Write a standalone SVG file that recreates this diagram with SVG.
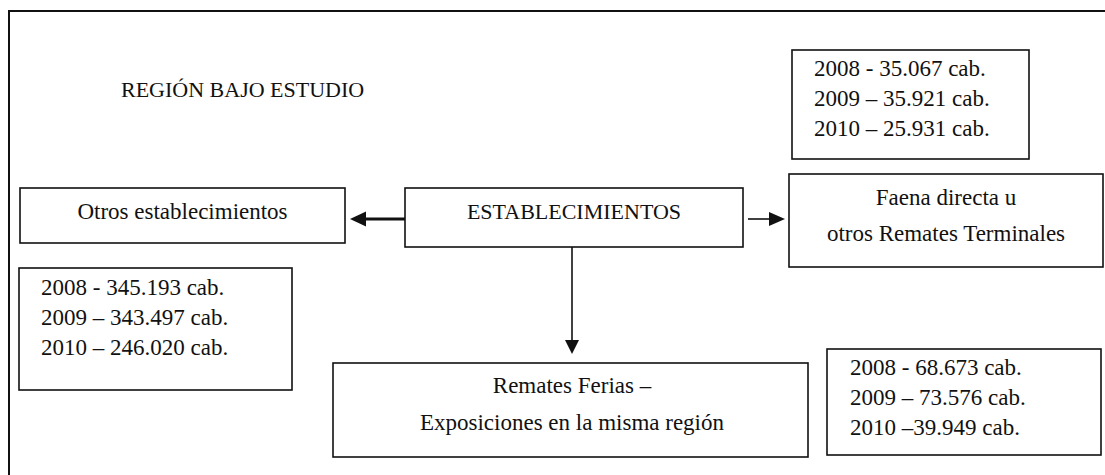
<svg xmlns="http://www.w3.org/2000/svg" width="1105" height="475" viewBox="0 0 1105 475">
<style>
.box{fill:#fff;stroke:#111;stroke-width:1.6}
.frame{fill:none;stroke:#111;stroke-width:2}
text{font-family:"Liberation Serif","Times New Roman",serif;font-size:23px;fill:#111}
.caps{font-size:22px}
.c{text-anchor:middle}
.thin{stroke:#111;stroke-width:1.6;fill:none}
.thick{stroke:#111;stroke-width:3.2;fill:none}
.head{fill:#111;stroke:none}
</style>
<rect class="frame" x="9" y="11" width="1100" height="470"/>
<g id="title">
<text class="caps" x="121" y="97">REGIÓN BAJO ESTUDIO</text>
</g>
<g id="data-faena">
<rect class="box" x="792" y="50" width="237" height="109"/>
<text x="814" y="76">2008 - 35.067 cab.</text>
<text x="814" y="106">2009 – 35.921 cab.</text>
<text x="814" y="136">2010 – 25.931 cab.</text>
</g>
<g id="faena">
<rect class="box" x="789" y="174" width="314" height="93"/>
<text class="c" x="946" y="205">Faena directa u</text>
<text class="c" x="946" y="241">otros Remates Terminales</text>
</g>
<g id="otros">
<rect class="box" x="20" y="188" width="325" height="55"/>
<text class="c" x="182.5" y="219">Otros establecimientos</text>
</g>
<g id="establecimientos">
<rect class="box" x="405" y="188" width="338" height="59"/>
<text class="caps c" x="574" y="219">ESTABLECIMIENTOS</text>
</g>
<g id="data-otros">
<rect class="box" x="19" y="268" width="273" height="122"/>
<text x="41" y="295">2008 - 345.193 cab.</text>
<text x="41" y="325">2009 – 343.497 cab.</text>
<text x="41" y="355">2010 – 246.020 cab.</text>
</g>
<g id="remates">
<rect class="box" x="333" y="363" width="475" height="94"/>
<text class="c" x="572" y="393">Remates Ferias –</text>
<text class="c" x="572" y="430">Exposiciones en la misma región</text>
</g>
<g id="data-remates">
<rect class="box" x="827" y="349" width="274" height="106"/>
<text x="850" y="375">2008 - 68.673 cab.</text>
<text x="850" y="405">2009 – 73.576 cab.</text>
<text x="850" y="435">2010 –39.949 cab.</text>
</g>
<g id="connectors">
<line class="thick" x1="405" y1="219" x2="364" y2="219"/>
<polygon class="head" points="350,219 366,211.5 366,226.5"/>
<line class="thin" x1="748" y1="219" x2="771" y2="219"/>
<polygon class="head" points="785,219 769,212 769,226"/>
<line class="thin" x1="572" y1="247" x2="572" y2="342"/>
<polygon class="head" points="572,354 565,340 579,340"/>
</g>
</svg>
